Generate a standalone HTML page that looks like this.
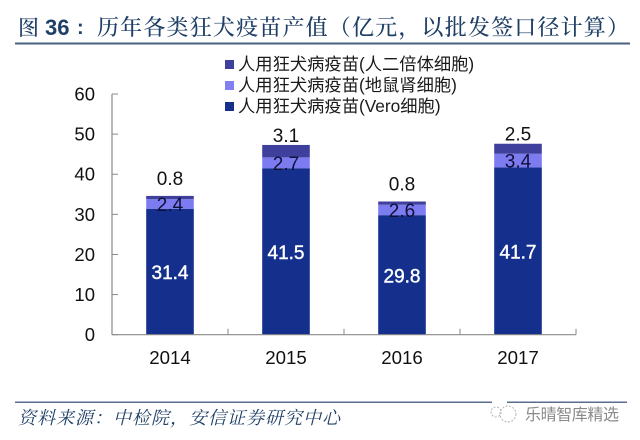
<!DOCTYPE html>
<html>
<head>
<meta charset="utf-8">
<style>
html,body{margin:0;padding:0;background:#fff;}
svg{display:block;}
text{font-family:"Liberation Sans","Noto Sans CJK SC",sans-serif;}
.ser{font-family:"Liberation Serif","Noto Serif CJK SC",serif;}
</style>
</head>
<body>
<svg id="c" width="640" height="440" viewBox="0 0 640 440" xmlns="http://www.w3.org/2000/svg">
  <rect x="0" y="0" width="640" height="440" fill="#ffffff"/>
  <text x="18" y="35" font-size="21" fill="#1f3f66" class="ser" font-weight="500">图</text>
  <text x="45" y="35" font-size="22" fill="#1f3f66" font-weight="700">36</text>
  <text x="77" y="34" font-size="20" fill="#1f3f66" font-weight="700">:</text>
  <text x="97" y="35" class="ser" font-size="22" font-weight="500" fill="#1f3f66" textLength="532" lengthAdjust="spacing">历年各类狂犬疫苗产值（亿元，以批发签口径计算）</text>
  <rect x="15" y="42.5" width="615" height="2" fill="#49617f"/>
  <g id="legend">
    <rect x="225" y="60" width="9" height="9" fill="#3f3f9c"/>
    <text x="238" y="70" font-size="17.3" fill="#1a1a1a">人用狂犬病疫苗(人二倍体细胞)</text>
    <rect x="225" y="81" width="9" height="9" fill="#8080f0"/>
    <text x="238" y="91" font-size="17.3" fill="#1a1a1a">人用狂犬病疫苗(地鼠肾细胞)</text>
    <rect x="225" y="102" width="9" height="9" fill="#14308c"/>
    <text x="238" y="112" font-size="17.3" fill="#1a1a1a">人用狂犬病疫苗(Vero细胞)</text>
  </g>
  <g id="plot"></g>
  <rect x="15" y="401.5" width="477" height="1.5" fill="#5a6c8c"/>
  <rect x="507" y="401.5" width="120" height="1.5" fill="#5a6c8c"/>
  <text x="18" y="424" class="ser" font-size="18" font-style="italic" fill="#1f3f66" textLength="322" lengthAdjust="spacing">资料来源：中检院，安信证券研究中心</text>
  <g>
    <circle cx="496" cy="412" r="5" fill="none" stroke="#b4b4b4" stroke-width="1" stroke-dasharray="2 1.5"/>
    <circle cx="508" cy="414" r="8" fill="none" stroke="#b4b4b4" stroke-width="1" stroke-dasharray="2 1.5"/>
    <text x="525" y="420" font-size="16" fill="#8a8a8a" textLength="94" lengthAdjust="spacing">乐晴智库精选</text>
  </g>
</svg>
<script>
var categories = ["2014", "2015", "2016", "2017"];
var veroValues = [31.4, 41.5, 29.8, 41.7];
var hamsterValues = [2.4, 2.7, 2.6, 3.4];
var diploidValues = [0.8, 3.1, 0.8, 2.5];
var yTicks = [0, 10, 20, 30, 40, 50, 60];

var NS = "http://www.w3.org/2000/svg";
var plot = document.getElementById("plot");
var x0 = 112, bandW = 116, barW = 47.6, yBase = 334.7, yTop = 94;
function yScale(v) { return yBase - v * (yBase - yTop) / 60; }
function xCenter(i) { return x0 + bandW * (i + 0.5); }
function make(tag, attrs, text) {
  var el = document.createElementNS(NS, tag);
  for (var k in attrs) el.setAttribute(k, attrs[k]);
  if (text !== undefined) el.textContent = text;
  plot.appendChild(el);
  return el;
}
function drawBar(i, from, val, color, name) {
  var el = make("rect", {x: xCenter(i) - barW / 2, y: yScale(from + val), width: barW, height: yScale(from) - yScale(from + val), fill: color});
  
  
}
function drawLabel(x, y, txt, color, size, name, outline) {
  var el = make("text", {x: x, y: y, "text-anchor": "middle", "font-size": size, fill: color});
  el.textContent = txt;
  if (outline) {
    el.setAttribute("stroke", color);
    el.setAttribute("stroke-width", outline);
  }
  
  
}
categories.forEach(function (cat, i) {
  var v = veroValues[i], h = hamsterValues[i], d = diploidValues[i];
  drawBar(i, 0, v, "#14308c", "bar-vero-" + cat);
  drawBar(i, v, h, "#7c7cf0", "bar-hamster-" + cat);
  drawBar(i, v + h, d, "#3f3f9c", "bar-diploid-" + cat);
  drawLabel(xCenter(i), yScale(v / 2) + 7.5, v.toFixed(1), "#ffffff", 19, "value-vero-" + cat, 0.4);
  drawLabel(xCenter(i), yScale(v + h / 2) + 7, h.toFixed(1), "#10103a", 19, "value-hamster-" + cat);
  drawLabel(xCenter(i), yScale(v + h + d) - (d > 2 ? 10 : 18) + 7, d.toFixed(1), "#111111", 19, "value-diploid-" + cat);
  drawLabel(xCenter(i), 364, cat, "#111111", 18.7, "x-tick-label-" + cat);
});
var yAxis = make("line", {x1: x0, x2: x0, y1: yTop, y2: yBase, stroke: "#8a8a8a", "stroke-width": 1.2});


var xAxis = make("line", {x1: x0, x2: x0 + bandW * categories.length, y1: yBase, y2: yBase, stroke: "#8a8a8a", "stroke-width": 1.2});


yTicks.forEach(function (t) {
  var tick = make("line", {x1: x0, x2: x0 + 6, y1: yScale(t), y2: yScale(t), stroke: "#8a8a8a", "stroke-width": 1});
  
  
  var lab = make("text", {x: 95, y: yScale(t) + 6.5, "text-anchor": "end", "font-size": 18.5, fill: "#111111"}, String(t));
  
  
});
categories.concat([""]).forEach(function (c, i) {
  var tick = make("line", {x1: x0 + bandW * i, x2: x0 + bandW * i, y1: yBase, y2: yBase - 6, stroke: "#8a8a8a", "stroke-width": 1});
  
  
});
</script>
</body>
</html>
